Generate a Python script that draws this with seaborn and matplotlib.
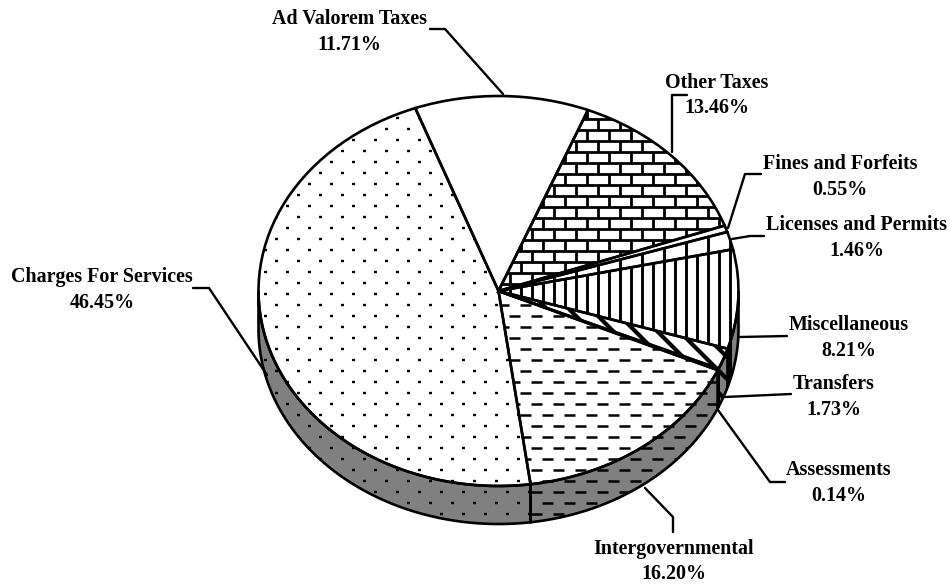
import numpy as np
import matplotlib
matplotlib.use("Agg")
import matplotlib.pyplot as plt
from matplotlib.collections import LineCollection
from matplotlib.transforms import Affine2D
import seaborn as sns

sns.set_theme(style="white")
plt.rcParams["font.family"] = ["Liberation Serif", "DejaVu Serif"]

# slices, clockwise from the top
labels = ["Ad Valorem Taxes", "Other Taxes", "Fines and Forfeits", "Licenses and Permits",
          "Miscellaneous", "Transfers", "Assessments", "Intergovernmental", "Charges For Services"]
shares = [11.71, 13.46, 0.55, 1.46, 8.21, 1.73, 0.14, 16.20, 46.45]
textures = ["none", "brick", "none", "wide", "vert", "diag", "none", "dash", "dots"]

# label baselines in pixels (x centre, baseline of first line, baseline of second line)
label_x = [349.5, 717, 840, 857, 849, 834, 839, 674, 102]
label_y1 = [24, 88, 169, 230, 330, 389, 475, 554, 282]
label_y2 = [50, 113, 195, 256, 356, 415, 501, 579, 308]

# leader lines in pixels
leaders = [
    [(430, 29), (445, 29), (503, 94)],
    [(687, 95), (672, 95), (672, 152)],
    [(761, 174), (745, 174), (728, 228)],
    [(764, 236), (750, 236), (732, 239)],
    [(787, 336), (740, 337)],
    [(791, 394), (725, 397)],
    [(785, 482), (770, 482), (718, 410)],
    [(645, 488), (673, 517), (673, 532)],
    [(193, 288), (209, 288), (267, 375)],
]

W, H = 950, 585
cx, cy = 498.5, 291      # centre of the top face
rx, ry = 240, 195        # radii of the top face
depth = 38 / ry          # thickness of the side wall
start = 110.3
lw = 1.9

fig = plt.figure(figsize=(W / 100, H / 100), dpi=100)
ax = fig.add_axes([0, 0, 1, 1])
px = Affine2D().scale(1, -1).translate(0, H)  # pixel coords for texture and text

wedges, _ = ax.pie(shares, startangle=start, counterclock=False, radius=1,
                   wedgeprops=dict(facecolor="none", edgecolor="black", linewidth=lw, zorder=3))
ax.set_aspect("auto")
ax.set_xlim(-cx / rx, (W - cx) / rx)
ax.set_ylim((cy - H) / ry, cy / ry)
ax.axis("off")


def texture_segments(kind):
    segs = []
    if kind == "dots":
        for j, y in enumerate(np.arange(107.3, 540, 11)):
            x0 = 386.3 if j % 2 == 0 else 397.3
            x0 = x0 - 176
            for x in np.arange(x0, 560, 22):
                segs.append([(x - 1.2, y), (x + 1.2, y)])
    elif kind == "dash":
        for j, y in enumerate(np.arange(294.3, 540, 11)):
            x0 = 531 if j % 2 == 0 else 520
            x0 = x0 - 44
            for x in np.arange(x0, 760, 22):
                segs.append([(x, y), (x + 10.7, y)])
    elif kind == "brick":
        for j, y in enumerate(np.arange(108, 300, 11)):
            segs.append([(480, y), (760, y)])
            x0 = 598.3 - 132 if j % 2 == 1 else 587.3 - 132
            for x in np.arange(x0, 760, 22):
                segs.append([(x, y), (x, y + 11)])
    elif kind == "vert":
        for x in np.arange(499.3, 760, 11):
            segs.append([(x, 240), (x, 420)])
    elif kind == "wide":
        for x in np.arange(510.3, 760, 22):
            segs.append([(x, 220), (x, 300)])
    elif kind == "diag":
        for c in np.arange(172, 400, 22):
            segs.append([(c + 280, 280), (c + 420, 420)])
    return segs


def add_texture(kind, patch):
    segs = texture_segments(kind)
    if not segs:
        return
    width = {"diag": 3.0, "vert": 2.1, "wide": 2.1, "brick": 2.0, "dots": 1.7, "dash": 1.8}[kind]
    lc = LineCollection(segs, colors="black", linewidths=width, transform=px,
                        capstyle="butt", zorder=2)
    ax.add_collection(lc, autolim=False)
    lc.set_clip_path(patch)


# side wall, only the part facing the viewer
bounds = start - 360 * np.cumsum([0] + shares) / sum(shares)
for i, kind in enumerate(textures):
    hi, lo = min(bounds[i], 0), max(bounds[i + 1], -180)
    if hi > lo:
        t = np.radians(np.linspace(hi, lo, 120))
        xs = np.r_[np.cos(t), np.cos(t[::-1])]
        ys = np.r_[np.sin(t), np.sin(t[::-1]) - depth]
        side = ax.fill(xs, ys, facecolor="#808080", edgecolor="none", zorder=1)[0]
        ax.fill(xs, ys, facecolor="none", edgecolor="black", linewidth=lw, zorder=3)
        add_texture(kind, side)

# top face texture
for wedge, kind in zip(wedges, textures):
    add_texture(kind, wedge)

# labels and leader lines
for i, name in enumerate(labels):
    ax.text(label_x[i], label_y1[i], name, transform=px, ha="center", va="baseline",
            fontsize=14.4, fontweight="bold", color="black", clip_on=False)
    ax.text(label_x[i], label_y2[i], f"{shares[i]:.2f}%", transform=px, ha="center", va="baseline",
            fontsize=14.4, fontweight="bold", color="black", clip_on=False)
    xs, ys = zip(*leaders[i])
    ax.plot(xs, ys, color="black", linewidth=1.7, transform=px, zorder=4, clip_on=False)

fig.savefig("out.png", dpi=100, facecolor="white")
